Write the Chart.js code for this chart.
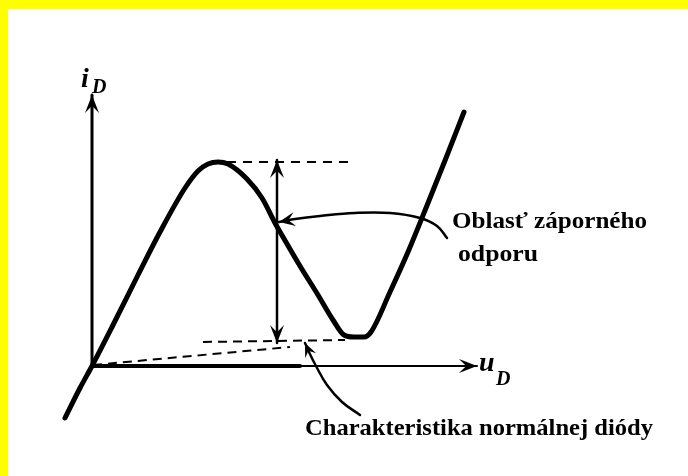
<!DOCTYPE html>
<html>
<head>
<meta charset="utf-8">
<script src="https://cdn.jsdelivr.net/npm/chart.js@4.4.1/dist/chart.umd.min.js"></script>
<style>
  html, body { margin: 0; padding: 0; background: #fff; }
  canvas { display: block; }
</style>
</head>
<body>
<canvas id="diode" width="688" height="476"></canvas>
<script>
// sketch units, origin where the u_D and i_D axes cross
const tunnelU = [-27, -12, 0, 21, 46, 68, 93, 106, 116, 126, 136, 155, 170, 183, 191, 208, 226, 241, 252, 262, 272, 279, 298, 316, 336, 354, 372];
const tunnelI = [-52, -22, 0, 41, 91, 134, 178, 195, 202, 204, 202, 187, 168, 143, 129, 100, 71, 46, 31, 29, 29, 34, 74, 114, 163, 208, 254];

const normalU = [0, 208];          // normal diode (solid, along the axis)
const normalI = [0, 0];
const normalDashU = [1, 198];      // normal diode forward rise (dashed)
const normalDashI = [1, 19];

const peakU = [135, 263];          // peak current level
const peakI = [204, 204];
const valleyU = [111, 253];        // valley current level
const valleyI = [24, 26];

const swingU = [185, 185];         // peak-to-valley double arrow
const swingI = [23, 206];

const uAxisEnd = 385;
const iAxisEnd = 271;

const oblastU = [355, 345, 328, 298, 263, 228, 203, 187];
const oblastI = [128, 140, 148, 153, 153, 150, 147, 144];
const normalPtrU = [268, 250, 235, 224, 217, 213];
const normalPtrI = [-49, -36, -19, 0, 14, 23];

const labels = [
  { text: "Oblasť záporného", x: 452, y: 228, width: 195, size: 24 },
  { text: "odporu", x: 458, y: 261, width: 80, size: 24 },
  { text: "Charakteristika normálnej diódy", x: 305, y: 435, width: 348, size: 24 }
];

function pts(us, is) {
  return us.map((u, k) => ({ x: u, y: is[k] }));
}

function line(us, is, width, extra) {
  return Object.assign({
    data: pts(us, is),
    showLine: true,
    borderColor: "#000",
    borderWidth: width,
    pointRadius: 0,
    tension: 0,
    borderCapStyle: "round",
    borderJoinStyle: "round"
  }, extra || {});
}

function arrowHead(ctx, x, y, ang, len, half) {
  ctx.save();
  ctx.translate(x, y);
  ctx.rotate(ang);
  ctx.beginPath();
  ctx.moveTo(0, 0);
  ctx.lineTo(-len, half);
  ctx.lineTo(-len * 0.6, 0);
  ctx.lineTo(-len, -half);
  ctx.closePath();
  ctx.fillStyle = "#000";
  ctx.fill();
  ctx.restore();
}

const sketchPlugin = {
  id: "sketch",
  beforeDraw(chart) {
    const ctx = chart.ctx;
    ctx.save();
    ctx.fillStyle = "#fff";
    ctx.fillRect(0, 0, chart.width, chart.height);
    ctx.fillStyle = "#ffff00";
    ctx.fillRect(0, 0, chart.width, 9);
    ctx.fillRect(0, 0, 8, chart.height);
    ctx.restore();
  },
  afterDatasetsDraw(chart) {
    const ctx = chart.ctx;
    chart.data.datasets.forEach((ds, i) => {
      if (!ds.arrow) return;
      const p = chart.getDatasetMeta(i).data;
      const n = p.length;
      const size = ds.arrowSize || [14, 6];
      if (ds.arrow === "end" || ds.arrow === "both") {
        const a = Math.atan2(p[n - 1].y - p[n - 2].y, p[n - 1].x - p[n - 2].x);
        arrowHead(ctx, p[n - 1].x, p[n - 1].y, a, size[0], size[1]);
      }
      if (ds.arrow === "both") {
        const a = Math.atan2(p[0].y - p[1].y, p[0].x - p[1].x);
        arrowHead(ctx, p[0].x, p[0].y, a, size[0], size[1]);
      }
    });
  },
  afterDraw(chart) {
    const ctx = chart.ctx;
    ctx.save();
    ctx.fillStyle = "#000";
    ctx.textBaseline = "alphabetic";
    labels.forEach(l => {
      ctx.font = "bold " + l.size + "px 'Liberation Serif', 'Times New Roman', serif";
      const w = ctx.measureText(l.text).width;
      ctx.save();
      ctx.translate(l.x, l.y);
      ctx.scale(l.width / w, 1);
      ctx.fillText(l.text, 0, 0);
      ctx.restore();
    });
    // axis names
    ctx.font = "italic bold 28px 'Liberation Serif', serif";
    ctx.fillText("i", 81, 87);
    ctx.fillText("u", 479, 371);
    ctx.font = "italic bold 20px 'Liberation Serif', serif";
    ctx.fillText("D", 92, 93);
    ctx.fillText("D", 496, 385);
    ctx.restore();
  }
};

new Chart(document.getElementById("diode"), {
  type: "scatter",
  data: {
    datasets: [
      line([0, uAxisEnd], [0, 0], 2, { arrow: "end", arrowSize: [18, 7] }),
      line([0, 0], [0, iAxisEnd], 3, { arrow: "end", arrowSize: [18, 7] }),
      line(normalU, normalI, 4),
      line(normalDashU, normalDashI, 2, { borderDash: [9, 6], borderCapStyle: "butt" }),
      line(valleyU, valleyI, 2, { borderDash: [9, 6], borderCapStyle: "butt" }),
      line(peakU, peakI, 2, { borderDash: [9, 7], borderCapStyle: "butt" }),
      line(swingU, swingI, 2.5, { arrow: "both", arrowSize: [18, 7] }),
      line(oblastU, oblastI, 2.5, { tension: 0.4, arrow: "end", arrowSize: [16, 7] }),
      line(normalPtrU, normalPtrI, 2.5, { tension: 0.4, arrow: "end", arrowSize: [14, 6] }),
      line(tunnelU, tunnelI, 5, { cubicInterpolationMode: "monotone" })
    ]
  },
  options: {
    responsive: false,
    animation: false,
    layout: { padding: 0 },
    plugins: { legend: { display: false }, tooltip: { enabled: false } },
    scales: {
      x: { type: "linear", min: -92, max: 596, display: false },
      y: { type: "linear", min: -110, max: 366, display: false }
    }
  },
  plugins: [sketchPlugin]
});
</script>
</body>
</html>
